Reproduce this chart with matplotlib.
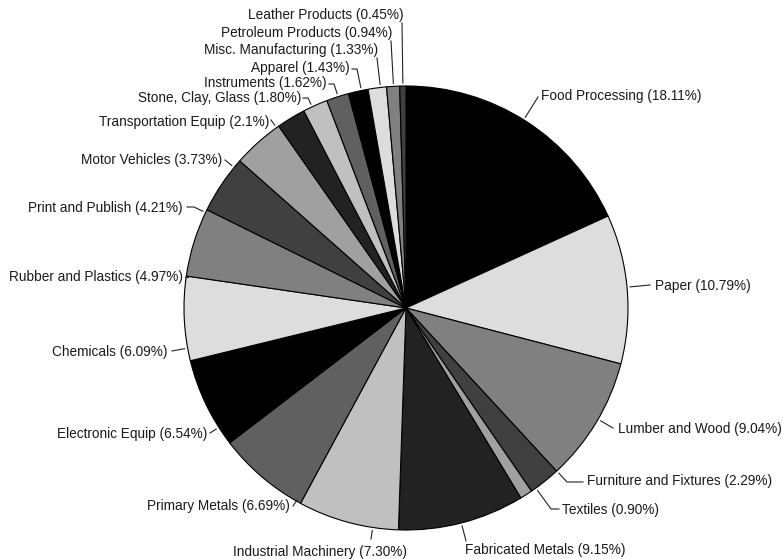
import numpy as np
import matplotlib
matplotlib.use("Agg")
import matplotlib.pyplot as plt

plt.rcParams["font.family"] = ["Liberation Sans", "DejaVu Sans"]

industries = [
    "Food Processing", "Paper", "Lumber and Wood", "Furniture and Fixtures",
    "Textiles", "Fabricated Metals", "Industrial Machinery", "Primary Metals",
    "Electronic Equip", "Chemicals", "Rubber and Plastics", "Print and Publish",
    "Motor Vehicles", "Transportation Equip", "Stone, Clay, Glass", "Instruments",
    "Apparel", "Misc. Manufacturing", "Petroleum Products", "Leather Products",
]
pct_text = [
    "18.11", "10.79", "9.04", "2.29", "0.90", "9.15", "7.30", "6.69", "6.54",
    "6.09", "4.97", "4.21", "3.73", "2.1", "1.80", "1.62", "1.43", "1.33",
    "0.94", "0.45",
]
shares = [float(p) for p in pct_text]

greys = ["#000000", "#dddddd", "#808080", "#404040",
         "#a0a0a0", "#222222", "#c0c0c0", "#606060"]

W, H = 783, 559
cx, cy, R = 406, 308, 222

# label placement in pixel coords (top origin): text x, text y, ha, leader points
layout = [
    (541, 96, "left", [(538, 97)]),
    (655, 286, "left", [(650, 285)]),
    (618, 429, "left", [(613, 428)]),
    (587, 481, "left", [(567, 482), (583, 482)]),
    (562, 510, "left", [(551, 509), (559, 509)]),
    (465, 550, "left", [(466, 541)]),
    (320, 552, "center", [(371, 539)]),
    (290, 506, "right", [(297, 500), (293, 506)]),
    (207, 434, "right", [(210, 433)]),
    (168, 352, "right", [(172, 351)]),
    (183, 277, "right", [(188, 277), (185, 277)]),
    (183, 208, "right", [(194, 207), (187, 207)]),
    (222, 160, "right", [(225, 160)]),
    (269, 122, "right", [(271, 120)]),
    (301, 98, "right", [(308, 98), (303, 98)]),
    (327, 83, "right", [(334, 84), (329, 84)]),
    (350, 68, "right", [(357, 69), (352, 69)]),
    (378, 50, "right", [(377, 58)]),
    (392, 33, "right", [(391, 41)]),
    (404, 15, "right", [(402, 23)]),
]

fig = plt.figure(figsize=(W / 100, H / 100), dpi=100)
ax = fig.add_axes([0, 0, 1, 1])
ax.set_xlim(0, W)
ax.set_ylim(0, H)
ax.set_aspect("equal")
ax.axis("off")

colors = [greys[i % len(greys)] for i in range(len(shares))]
wedges, _ = ax.pie(shares, colors=colors, startangle=90, counterclock=False,
                   center=(cx, H - cy), radius=R,
                   wedgeprops=dict(edgecolor="black", linewidth=0.8))
ax.set_xlim(0, W)
ax.set_ylim(0, H)

for name, p, (tx, ty, ha, pts) in zip(industries, pct_text, layout):
    xs = [q[0] for q in pts]
    ys = [H - q[1] for q in pts]
    dx, dy = xs[0] - cx, ys[0] - (H - cy)
    dist = np.hypot(dx, dy)
    if dist > R + 5:
        # leader starts just off the rim, pointing at the label
        xs.insert(0, cx + (R + 3) * dx / dist)
        ys.insert(0, (H - cy) + (R + 3) * dy / dist)
    ax.plot(xs, ys, color="#222222", lw=0.8)
    ax.text(tx, H - ty, f"{name} ({p}%)", ha=ha, va="center",
            fontsize=9.8, color="#1a1a1a")

fig.savefig("out.png", dpi=100)
